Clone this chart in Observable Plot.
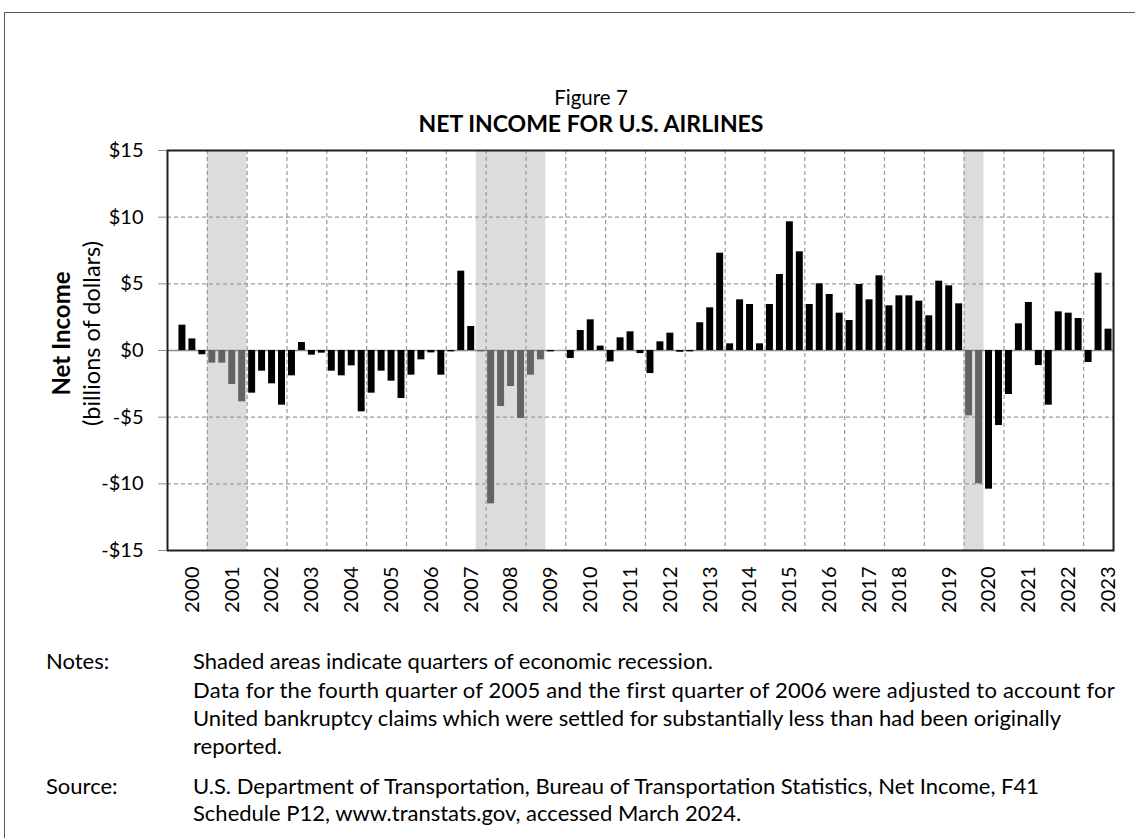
<!DOCTYPE html>
<html><head><meta charset="utf-8">
<script src="https://cdn.jsdelivr.net/npm/d3@7"></script>
<script src="https://cdn.jsdelivr.net/npm/@observablehq/plot@0.6"></script>
<style>
html,body{margin:0;padding:0;background:#fff;}
body{width:1135px;height:838px;overflow:hidden;position:relative;font-family:Lato,"Open Sans",sans-serif;color:#000;}
#border{position:absolute;left:4px;top:12px;width:1400px;height:1200px;border:1.5px solid #555;box-sizing:border-box;}
.t{position:absolute;white-space:nowrap;line-height:28px;font-size:22px;}
#chart{position:absolute;left:0;top:140px;}
</style></head><body>
<div id="border"></div>
<div class="t" id="fig" style="left:0;width:1182px;text-align:center;top:83px;font-size:20.5px;">Figure 7</div>
<div class="t" id="ttl" style="left:0;width:1182px;text-align:center;top:109px;font-size:23px;font-weight:bold;">NET INCOME FOR U.S. AIRLINES</div>
<div id="chart"></div>
<div class="t" style="left:46px;top:647px;">Notes:</div>
<div class="t" style="left:193px;top:647px;">Shaded areas indicate quarters of economic recession.</div>
<div class="t" style="left:193px;top:676px;letter-spacing:0.2px;">Data for the fourth quarter of 2005 and the first quarter of 2006 were adjusted to account for</div>
<div class="t" style="left:193px;top:704px;">United bankruptcy claims which were settled for substantially less than had been originally</div>
<div class="t" style="left:193px;top:732px;">reported.</div>
<div class="t" style="left:46px;top:772px;">Source:</div>
<div class="t" style="left:193px;top:772px;">U.S. Department of Transportation, Bureau of Transportation Statistics, Net Income, F41</div>
<div class="t" style="left:193px;top:799px;">Schedule P12, www.transtats.gov, accessed March 2024.</div>
<script>
// ---- data ----
const years = [2000,2001,2002,2003,2004,2005,2006,2007,2008,2009,2010,2011,
               2012,2013,2014,2015,2016,2017,2018,2019,2020,2021,2022,2023];
const quarters = ["Q1","Q2","Q3","Q4"];
// net income, billions of dollars, quarterly from 2000 Q1 to 2023 Q3
const netIncome = [
  0.0, 1.9, 0.87, -0.32,      // 2000
  -0.95, -0.95, -2.55, -3.85, // 2001
  -3.2, -1.55, -2.5, -4.1,    // 2002
  -1.9, 0.6, -0.35, -0.2,     // 2003
  -1.55, -1.9, -1.15, -4.6,   // 2004
  -3.2, -1.55, -2.3, -3.6,    // 2005
  -1.85, -0.7, -0.18, -1.85,  // 2006
  -0.1, 5.95, 1.8, -0.1,      // 2007
  -11.5, -4.2, -2.7, -5.1,    // 2008
  -1.85, -0.7, -0.1, 0.0,     // 2009
  -0.6, 1.5, 2.3, 0.33,       // 2010
  -0.86, 0.95, 1.4, -0.23,    // 2011
  -1.73, 0.65, 1.3, -0.13,    // 2012
  -0.1, 2.08, 3.2, 7.3,       // 2013
  0.5, 3.8, 3.45, 0.5,        // 2014
  3.45, 5.7, 9.65, 7.4,       // 2015
  3.45, 5.0, 4.2, 2.8,        // 2016
  2.25, 4.95, 3.8, 5.6,       // 2017
  3.35, 4.1, 4.1, 3.7,        // 2018
  2.6, 5.2, 4.85, 3.5,        // 2019
  -4.9, -10.0, -10.4, -5.63,  // 2020
  -3.3, 2.0, 3.6, -1.13,      // 2021
  -4.1, 2.9, 2.8, 2.4,        // 2022
  -0.9, 5.8, 1.6              // 2023
];
// recessions (first and last quarter shaded)
const recessionFrom = ["2001 Q1", "2007 Q4", "2020 Q1"];
const recessionTo   = ["2001 Q4", "2009 Q2", "2020 Q2"];
const yTicks = [-15, -10, -5, 0, 5, 10, 15];

// ---- build tables ----
const qTime = s => { const [y, q] = s.split(" "); return +y + (quarters.indexOf(q)) / 4; };
const recessions = recessionFrom.map((f, i) => ({start: qTime(f), end: qTime(recessionTo[i]) + 0.25}));
const rows = netIncome.map((v, i) => {
  const year = years[Math.floor(i / 4)];
  const t = year + (i % 4) / 4;
  const inRec = recessions.some(r => t >= r.start && t < r.end);
  return {label: year + " " + quarters[i % 4], x1: t, x2: t + 0.25, value: v, color: inRec ? "#636363" : "#000000"};
});
const yearTicks = years.map(y => y + (y === 2018 ? 0.375 : 0.625));
const money = d => (d < 0 ? "-" : "") + "$" + Math.abs(d);

const chart = Plot.plot({
  width: 1135, height: 487,
  marginLeft: 167, marginRight: 22, marginTop: 10, marginBottom: 77,
  style: {fontFamily: "Lato, 'Open Sans', sans-serif", fontSize: "20px", color: "#000", background: "transparent", overflow: "visible"},
  x: {domain: [2000, 2023.75], axis: null},
  y: {domain: [-15, 15], axis: null},
  color: {type: "identity"},
  marks: [
    Plot.rectY(recessions, {x1: "start", x2: "end", y1: -15, y2: 15, fill: "#dcdcdc"}),
    Plot.ruleY(yTicks.filter(d => d !== 0 && Math.abs(d) !== 15), {stroke: "#9a9a9a", strokeWidth: 1.2, strokeDasharray: "4,3"}),
    Plot.ruleX(years.slice(1), {stroke: "#9a9a9a", strokeWidth: 1.2, strokeDasharray: "4,3"}),
    Plot.ruleY([0], {stroke: "#8a8a8a", strokeWidth: 1.6}),
    Plot.rectY(rows, {x1: "x1", x2: "x2", y1: 0, y2: "value", fill: "color", insetLeft: 1.5, insetRight: 1.5}),
    Plot.frame({stroke: "#1e1e1e", strokeWidth: 2}),
    Plot.axisY(yTicks, {tickSize: 9, tickPadding: 15, tickFormat: money, stroke: "#8a8a8a", fill: "#000", fontSize: 20, label: null}),
    Plot.axisX(yearTicks, {tickSize: 0, tickPadding: 16, tickRotate: -90, tickFormat: d => String(Math.floor(d)), fill: "#000", fontSize: 20, label: null}),
    Plot.text(["Net Income"], {frameAnchor: "left", textAnchor: "middle", dx: -105, dy: -17, rotate: -90, fontWeight: "bold", fontSize: 24, fill: "#000"}),
    Plot.text(["(billions of dollars)"], {frameAnchor: "left", textAnchor: "middle", dx: -75, dy: -17, rotate: -90, fontSize: 23.5, fill: "#000"})
  ]
});
document.getElementById("chart").appendChild(chart);
</script>
</body></html>
